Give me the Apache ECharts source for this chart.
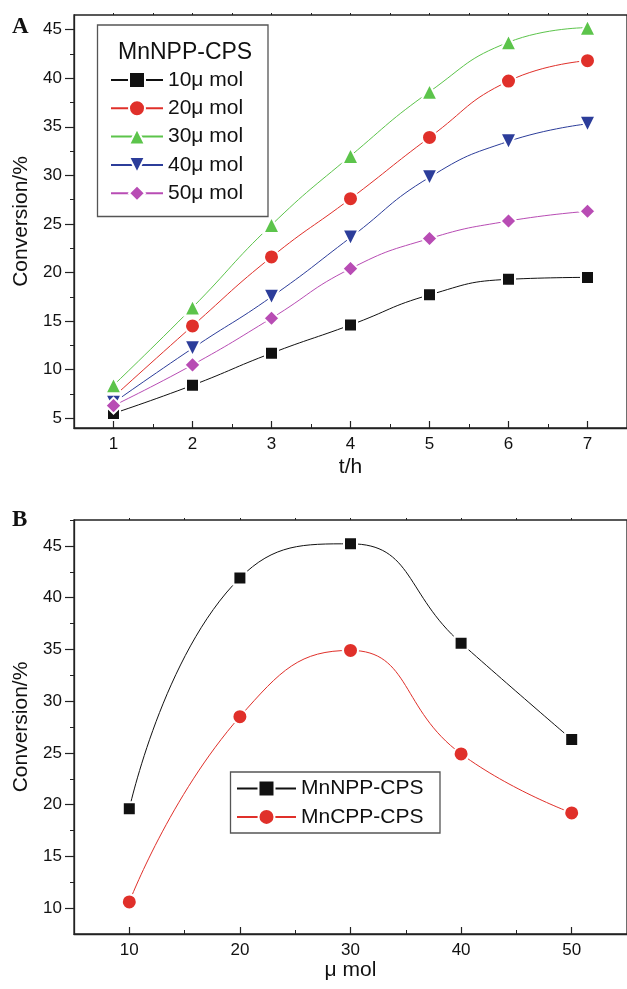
<!DOCTYPE html>
<html>
<head>
<meta charset="utf-8">
<script src="https://cdn.jsdelivr.net/npm/echarts@6/dist/echarts.min.js"></script>
<style>
html, body { margin: 0; padding: 0; background: #fff; }
#chart { width: 627px; height: 989px; }
</style>
</head>
<body>
<div id="chart"></div>
<script>
// panel A: conversion vs time for each catalyst amount
var hours = [1, 2, 3, 4, 5, 6, 7];
var conv10 = [5.5, 8.4, 11.7, 14.6, 17.7, 19.3, 19.5];
var conv20 = [7.2, 14.5, 21.6, 27.6, 33.9, 39.7, 41.8];
var conv30 = [8.4, 16.4, 24.9, 32.0, 38.6, 43.7, 45.2];
var conv40 = [6.6, 12.2, 17.5, 23.6, 29.8, 33.5, 35.3];
var conv50 = [6.3, 10.5, 15.3, 20.4, 23.5, 25.3, 26.3];
var namesA = ['10\u03bc mol', '20\u03bc mol', '30\u03bc mol', '40\u03bc mol', '50\u03bc mol'];

// panel B: conversion vs catalyst amount
var amounts = [10, 20, 30, 40, 50];
var convNPP = [19.6, 41.9, 45.2, 35.6, 26.3];
var convCPP = [10.6, 28.5, 34.9, 24.9, 19.2];
var namesB = ['MnNPP-CPS', 'MnCPP-CPS'];

// tick labels
var xTicksA = [1, 2, 3, 4, 5, 6, 7];
var xMinorA = [1.5, 2.5, 3.5, 4.5, 5.5, 6.5];
var yTicksA = [5, 10, 15, 20, 25, 30, 35, 40, 45];
var yMinorA = [7.5, 12.5, 17.5, 22.5, 27.5, 32.5, 37.5, 42.5];
var xTicksB = [10, 20, 30, 40, 50];
var xMinorB = [15, 25, 35, 45];
var yTicksB = [10, 15, 20, 25, 30, 35, 40, 45];
var yMinorB = [12.5, 17.5, 22.5, 27.5, 32.5, 37.5, 42.5, 47.5];

var FONT = '"Liberation Sans", Arial, sans-serif';
var AXIS_COLOR = '#222';

function pairs(xs, ys) {
	var out = [];
	for (var i = 0; i < xs.length; i++) out.push([xs[i], ys[i]]);
	return out;
}

function mainX(grid, min, max, ticks, name, gap) {
	return {
		type: 'value', gridIndex: grid, min: min, max: max, position: 'bottom',
		name: name, nameLocation: 'middle', nameGap: gap,
		nameTextStyle: { fontFamily: FONT, fontSize: 21, color: '#111' },
		axisLine: { show: true, onZero: false, lineStyle: { color: AXIS_COLOR, width: 1.3 } },
		axisTick: { show: true, inside: true, length: 7, customValues: ticks, lineStyle: { color: AXIS_COLOR, width: 1.2 } },
		axisLabel: { show: true, margin: 8, customValues: ticks, fontFamily: FONT, fontSize: 17, color: '#111' },
		splitLine: { show: false }
	};
}
function minorX(grid, min, max, ticks, pos, inside, len) {
	return {
		type: 'value', gridIndex: grid, min: min, max: max, position: pos,
		axisLine: { show: false, onZero: false },
		axisTick: { show: true, inside: inside, length: len, customValues: ticks, lineStyle: { color: AXIS_COLOR, width: 1 } },
		axisLabel: { show: false },
		splitLine: { show: false }
	};
}
function mainY(grid, min, max, ticks, gap) {
	return {
		type: 'value', gridIndex: grid, min: min, max: max, position: 'left',
		name: 'Conversion/%', nameLocation: 'middle', nameGap: gap,
		nameTextStyle: { fontFamily: FONT, fontSize: 21, color: '#111' },
		axisLine: { show: true, onZero: false, lineStyle: { color: AXIS_COLOR, width: 1.3 } },
		axisTick: { show: true, inside: false, length: 9, customValues: ticks, lineStyle: { color: AXIS_COLOR, width: 1.2 } },
		axisLabel: { show: true, margin: 12, customValues: ticks, fontFamily: FONT, fontSize: 17, color: '#111' },
		splitLine: { show: false }
	};
}
function minorY(grid, min, max, ticks) {
	return {
		type: 'value', gridIndex: grid, min: min, max: max, position: 'left',
		axisLine: { show: false, onZero: false },
		axisTick: { show: true, inside: false, length: 4, customValues: ticks, lineStyle: { color: AXIS_COLOR, width: 1 } },
		axisLabel: { show: false },
		splitLine: { show: false }
	};
}

function lineSeries(name, data, color, symbol, size, xi, yi) {
	return {
		name: name, type: 'line', xAxisIndex: xi, yAxisIndex: yi,
		data: data, smooth: 0.5,
		symbol: symbol, symbolSize: size,
		lineStyle: { color: color, width: 1 },
		itemStyle: { color: color, borderColor: '#fff', borderWidth: 2 },
		z: 3
	};
}

var DOWN_TRI = 'path://M0,0 L10,0 L5,9 Z';

var option = {
	animation: false,
	backgroundColor: '#fff',
	grid: [
		{ left: 74, top: 15, width: 554, height: 413, show: true, borderColor: AXIS_COLOR, borderWidth: 1.3, backgroundColor: 'transparent' },
		{ left: 74, top: 520, width: 555, height: 414, show: true, borderColor: AXIS_COLOR, borderWidth: 1.3, backgroundColor: 'transparent' }
	],
	xAxis: [
		mainX(0, 0.5, 7.5, xTicksA, 't/h', 29),
		minorX(0, 0.5, 7.5, xMinorA, 'bottom', true, 4),
		minorX(0, 0.5, 7.5, xTicksA.concat(xMinorA), 'top', false, 2),
		mainX(1, 5, 55, xTicksB, '\u03bc mol', 25),
		minorX(1, 5, 55, xMinorB, 'bottom', true, 4),
		minorX(1, 5, 55, xTicksB.concat(xMinorB), 'top', false, 2)
	],
	yAxis: [
		mainY(0, 4, 46.5, yTicksA, 39),
		minorY(0, 4, 46.5, yMinorA),
		mainY(1, 7.5, 47.5, yTicksB, 39),
		minorY(1, 7.5, 47.5, yMinorB)
	],
	legend: [
		{
			data: namesA, orient: 'vertical', left: 110, top: 69.5, padding: 0,
			itemWidth: 52, itemHeight: 20, itemGap: 7.3,
			textStyle: { fontFamily: FONT, fontSize: 21, color: '#111', lineHeight: 21 },
			selectedMode: false
		},
		{
			data: namesB, orient: 'vertical', left: 236, top: 778, padding: 0,
			itemWidth: 59, itemHeight: 20, itemGap: 7.4,
			textStyle: { fontFamily: FONT, fontSize: 21, color: '#111', lineHeight: 21 },
			selectedMode: false
		}
	],
	graphic: [
		{ type: 'rect', shape: { x: 97.5, y: 25, width: 170.5, height: 191.5 }, style: { fill: 'none', stroke: '#555', lineWidth: 1.3 }, z: 10 },
		{ type: 'text', left: 118, top: 41, style: { text: 'MnNPP-CPS', font: '23px ' + FONT, fill: '#111' }, z: 10 },
		{ type: 'rect', shape: { x: 230.5, y: 772, width: 209.5, height: 61 }, style: { fill: 'none', stroke: '#555', lineWidth: 1.3 }, z: 10 },
		{ type: 'text', left: 12, top: 16, style: { text: 'A', font: 'bold 23px "Liberation Serif", "Times New Roman", serif', fill: '#111' } },
		{ type: 'text', left: 12, top: 509, style: { text: 'B', font: 'bold 23px "Liberation Serif", "Times New Roman", serif', fill: '#111' } }
	],
	series: [
		lineSeries(namesA[0], pairs(hours, conv10), '#111111', 'rect', 13, 0, 0),
		lineSeries(namesA[1], pairs(hours, conv20), '#e0302a', 'circle', 15, 0, 0),
		lineSeries(namesA[2], pairs(hours, conv30), '#5cc44b', 'triangle', 16, 0, 0),
		lineSeries(namesA[3], pairs(hours, conv40), '#2c3d9a', DOWN_TRI, 16, 0, 0),
		lineSeries(namesA[4], pairs(hours, conv50), '#b84cb4', 'diamond', 16, 0, 0),
		lineSeries(namesB[0], pairs(amounts, convNPP), '#111111', 'rect', 13, 3, 2),
		lineSeries(namesB[1], pairs(amounts, convCPP), '#e0302a', 'circle', 15, 3, 2)
	]
};

var myChart = echarts.init(document.getElementById('chart'), null, { renderer: 'canvas' });
myChart.setOption(option);
</script>
</body>
</html>
